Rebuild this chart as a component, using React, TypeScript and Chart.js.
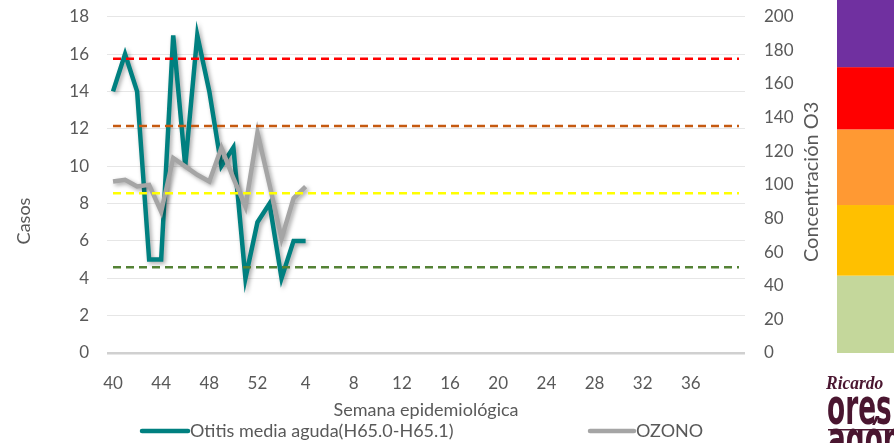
import React, { useEffect, useRef } from 'react';
import { Chart, registerables } from 'chart.js';

Chart.register(...registerables);

// ---------- data ----------
const weekLabels = [
  '40', '41', '42', '43', '44', '45', '46', '47', '48', '49', '50', '51', '52',
  '1', '2', '3', '4', '5', '6', '7', '8', '9', '10', '11', '12', '13', '14', '15', '16',
  '17', '18', '19', '20', '21', '22', '23', '24', '25', '26', '27', '28', '29', '30',
  '31', '32', '33', '34', '35', '36', '37', '38', '39', '',
];

const otitisCases = [14, 16, 14, 5, 5, 17, 10, 17, 14, 10, 11, 4, 7, 8, 4, 6, 6];
const ozoneValues = [102, 103, 99, 100, 84, 116, 111, 106, 102, 122, 104, 87, 131, 100, 68, 92, 99];

const thresholdValues = [175, 135, 95, 51];
const thresholdColors = ['#FF0000', '#C55A11', '#FFFF00', '#548235'];

const bandEdges = [0, 46, 88, 133, 170, 230];
const bandColors = ['#C4D79B', '#FFC000', '#FF9933', '#FF0000', '#7030A0'];

const leftTicksMax = 18;
const rightTicksMax = 200;

const TEXT = '#595959';
const FONT = 'Lato, "Open Sans", sans-serif';

const shadowPlugin = {
  id: 'lineShadow',
  beforeDatasetDraw(chart: any, args: any) {
    const ds = chart.data.datasets[args.index];
    if (ds && ds.shadow) {
      const ctx = chart.ctx;
      ctx.save();
      ctx.shadowColor = 'rgba(0,0,0,0.35)';
      ctx.shadowBlur = 4;
      ctx.shadowOffsetX = 2;
      ctx.shadowOffsetY = 2;
    }
  },
  afterDatasetDraw(chart: any, args: any) {
    const ds = chart.data.datasets[args.index];
    if (ds && ds.shadow) chart.ctx.restore();
  },
};

const decorPlugin = {
  id: 'decor',
  afterDraw(chart: any) {
    const ctx = chart.ctx;
    const area = chart.chartArea;
    const y1 = chart.scales.y1;
    const W = chart.width;

    // colour scale bands on the right
    for (let i = 0; i < bandColors.length; i++) {
      const yTop = Math.max(0, y1.getPixelForValue(bandEdges[i + 1]));
      const yBot = y1.getPixelForValue(bandEdges[i]);
      ctx.fillStyle = bandColors[i];
      ctx.fillRect(W - 57, yTop, 57, yBot - yTop);
    }

    ctx.save();
    ctx.fillStyle = TEXT;
    ctx.font = `18px ${FONT}`;
    ctx.textAlign = 'center';
    ctx.textBaseline = 'middle';

    // left axis title
    ctx.save();
    ctx.translate(24.5, 221);
    ctx.rotate(-Math.PI / 2);
    ctx.fillText('Casos', 0, 0);
    ctx.restore();

    // right axis title
    ctx.save();
    ctx.font = `20px ${FONT}`;
    ctx.translate(812, (area.top + area.bottom) / 2 - 3);
    ctx.rotate(-Math.PI / 2);
    ctx.fillText('Concentración O3', 0, 0);
    ctx.restore();

    // x axis title
    ctx.fillText('Semana epidemiológica', (area.left + area.right) / 2, 410);

    // legend
    const ly = 431;
    ctx.lineCap = 'round';
    ctx.lineWidth = 4.5;
    ctx.strokeStyle = chart.data.datasets[0].borderColor;
    ctx.beginPath();
    ctx.moveTo(142, ly);
    ctx.lineTo(188, ly);
    ctx.stroke();
    ctx.strokeStyle = chart.data.datasets[1].borderColor;
    ctx.beginPath();
    ctx.moveTo(590, ly);
    ctx.lineTo(634, ly);
    ctx.stroke();
    ctx.textAlign = 'left';
    ctx.fillText(chart.data.datasets[0].label, 190, ly);
    ctx.fillText(chart.data.datasets[1].label, 636, ly);
    ctx.restore();

    // logo text
    ctx.save();
    ctx.fillStyle = '#4A1630';
    ctx.textAlign = 'left';
    ctx.textBaseline = 'alphabetic';
    ctx.font = `italic bold 19px "Liberation Serif", serif`;
    ctx.save();
    ctx.translate(W - 68, 389);
    ctx.scale(0.92, 1);
    ctx.fillText('Ricardo', 0, 0);
    ctx.restore();
    ctx.font = `bold 44px "DejaVu Sans", sans-serif`;
    ctx.save();
    ctx.translate(W - 67, 424);
    ctx.scale(0.6, 1.15);
    ctx.fillText('ores', 0, 0);
    ctx.restore();
    ctx.fillRect(W - 66, 429, 66, 1.5);
    ctx.save();
    ctx.translate(W - 66, 456);
    ctx.scale(0.6, 1.15);
    ctx.fillText('agón', 0, 0);
    ctx.restore();
    ctx.restore();
  },
};

export default function App() {
  const canvasRef = useRef<HTMLCanvasElement | null>(null);

  useEffect(() => {
    if (!canvasRef.current) return;
    Chart.defaults.font.family = FONT;

    const thresholdSets = thresholdValues.map((v, i) => ({
      label: 'umbral' + i,
      data: weekLabels.map(() => v),
      yAxisID: 'y1',
      borderColor: thresholdColors[i],
      borderWidth: 2.5,
      borderDash: [8, 5],
      pointRadius: 0,
      fill: false,
      order: 1,
    }));

    const chart = new Chart(canvasRef.current, {
      type: 'line',
      data: {
        labels: weekLabels,
        datasets: [
          {
            label: 'Otitis media aguda(H65.0-H65.1)',
            data: otitisCases,
            yAxisID: 'y',
            borderColor: '#008080',
            borderWidth: 4.5,
            pointRadius: 0,
            tension: 0,
            fill: false,
            order: 6,
            shadow: true,
          } as any,
          {
            label: 'OZONO',
            data: ozoneValues,
            yAxisID: 'y1',
            borderColor: '#A5A5A5',
            borderWidth: 4.5,
            pointRadius: 0,
            tension: 0,
            fill: false,
            order: 5,
            shadow: true,
          } as any,
          ...thresholdSets,
        ],
      },
      options: {
        animation: false,
        responsive: true,
        maintainAspectRatio: false,
        layout: { padding: { top: 16.7, right: 59, bottom: 0, left: 0 } },
        plugins: {
          legend: { display: false },
          tooltip: { enabled: false },
        },
        scales: {
          x: {
            offset: true,
            grid: { display: false, drawTicks: false },
            border: { display: false },
            ticks: {
              autoSkip: false,
              maxRotation: 0,
              padding: 20,
              color: TEXT,
              font: { size: 17, family: FONT },
              callback: (_v: any, i: number) => (i % 4 === 0 ? weekLabels[i] : ''),
            },
            afterFit: (s: any) => {
              s.height = 90;
            },
          },
          y: {
            position: 'left',
            min: 0,
            max: leftTicksMax,
            grid: {
              drawTicks: true,
              tickLength: 18,
              tickColor: 'rgba(0,0,0,0)',
              color: (c: any) => (c.tick && c.tick.value === 0 ? '#D0D0D0' : '#E6E6E6'),
              lineWidth: (c: any) => (c.tick && c.tick.value === 0 ? 2.5 : 1),
            },
            border: { display: false },
            ticks: {
              stepSize: 2,
              padding: 0,
              color: TEXT,
              font: { size: 17, family: FONT },
            },
            afterFit: (s: any) => {
              s.width = 107;
            },
          },
          y1: {
            position: 'right',
            min: 0,
            max: rightTicksMax,
            grid: {
              display: true,
              drawOnChartArea: false,
              drawTicks: true,
              tickLength: 19,
              tickColor: 'rgba(0,0,0,0)',
              color: 'rgba(0,0,0,0)',
            },
            border: { display: false },
            ticks: {
              stepSize: 20,
              padding: 0,
              color: TEXT,
              font: { size: 17, family: FONT },
            },
            afterFit: (s: any) => {
              s.width = 90;
            },
          },
        },
      },
      plugins: [shadowPlugin, decorPlugin],
    } as any);

    return () => chart.destroy();
  }, []);

  return (
    <div style={{ position: 'absolute', left: 0, top: 0, width: 894, height: 443, background: '#fff' }}>
      <canvas ref={canvasRef} />
    </div>
  );
}
